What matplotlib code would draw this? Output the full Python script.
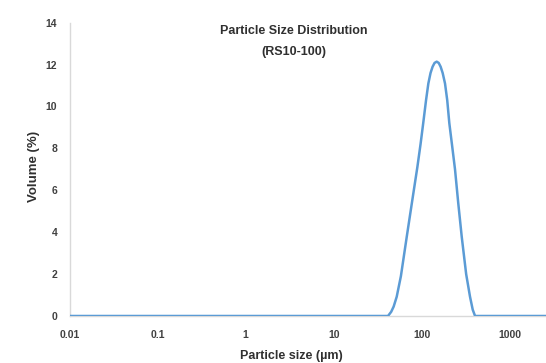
import numpy as np
import matplotlib
matplotlib.use('Agg')
import matplotlib.pyplot as plt

# particle size distribution
size_um = [0.01, 1, 10, 30, 41.4, 45, 48, 52, 58, 67.6, 78, 89.2, 97, 104, 112, 119, 126, 133,
           140, 148, 156, 164, 173, 184, 195, 206, 222, 239, 260, 285, 320, 354, 380, 404,
           500, 1000, 2600]
volume_pct = [0, 0, 0, 0, 0, 0.2, 0.45, 0.92, 1.9, 3.78, 5.5, 7.1, 8.2, 9.2, 10.3, 11.1, 11.6,
              11.9, 12.08, 12.14, 12.08, 11.9, 11.6, 11.1, 10.3, 9.2, 8.1, 7.0, 5.4, 3.78,
              2.0, 0.92, 0.3, 0, 0, 0, 0]

x_ticks = [0.01, 0.1, 1, 10, 100, 1000]
x_tick_labels = ['0.01', '0.1', '1', '10', '100', '1000']
y_ticks = [0, 2, 4, 6, 8, 10, 12, 14]

plt.rcParams['font.family'] = ['Liberation Sans', 'DejaVu Sans']

fig = plt.figure(figsize=(5.46, 3.63), dpi=100)
ax = fig.add_axes([0.1277, 0.1295, 0.8723, 0.808])

ax.plot(size_um, volume_pct, color='#5B9BD5', linewidth=1.8, solid_capstyle='round',
        solid_joinstyle='round', zorder=3)

ax.set_xscale('log')
ax.set_xlim(0.01, 2585)
ax.set_ylim(0, 14)
ax.set_xticks(x_ticks)
ax.set_xticklabels(x_tick_labels)
ax.set_yticks(y_ticks)
ax.minorticks_off()
ax.tick_params(length=0, labelsize=7.5, colors='#404040')
ax.tick_params(axis='x', pad=10)
ax.tick_params(axis='y', pad=9)
for lab in ax.get_xticklabels() + ax.get_yticklabels():
    lab.set_fontweight('bold')

for s in ['top', 'right']:
    ax.spines[s].set_visible(False)
for s in ['left', 'bottom']:
    ax.spines[s].set_color('#D9D9D9')
    ax.spines[s].set_linewidth(1)

fig.text(294/546, 1 - 30.7/363, 'Particle Size Distribution', ha='center', va='center',
         fontsize=9, fontweight='bold', color='#303030')
fig.text(294/546, 1 - 51.5/363, '(RS10-100)', ha='center', va='center',
         fontsize=9, fontweight='bold', color='#303030')
fig.text(291/546, 1 - 356/363, 'Particle size (\u00b5m)', ha='center', va='center',
         fontsize=9, fontweight='bold', color='#303030')
fig.text(34/546, 1 - 166/363, 'Volume (%)', ha='center', va='center', rotation=90,
         fontsize=9.5, fontweight='bold', color='#303030')

fig.savefig('out.png', dpi=100)
